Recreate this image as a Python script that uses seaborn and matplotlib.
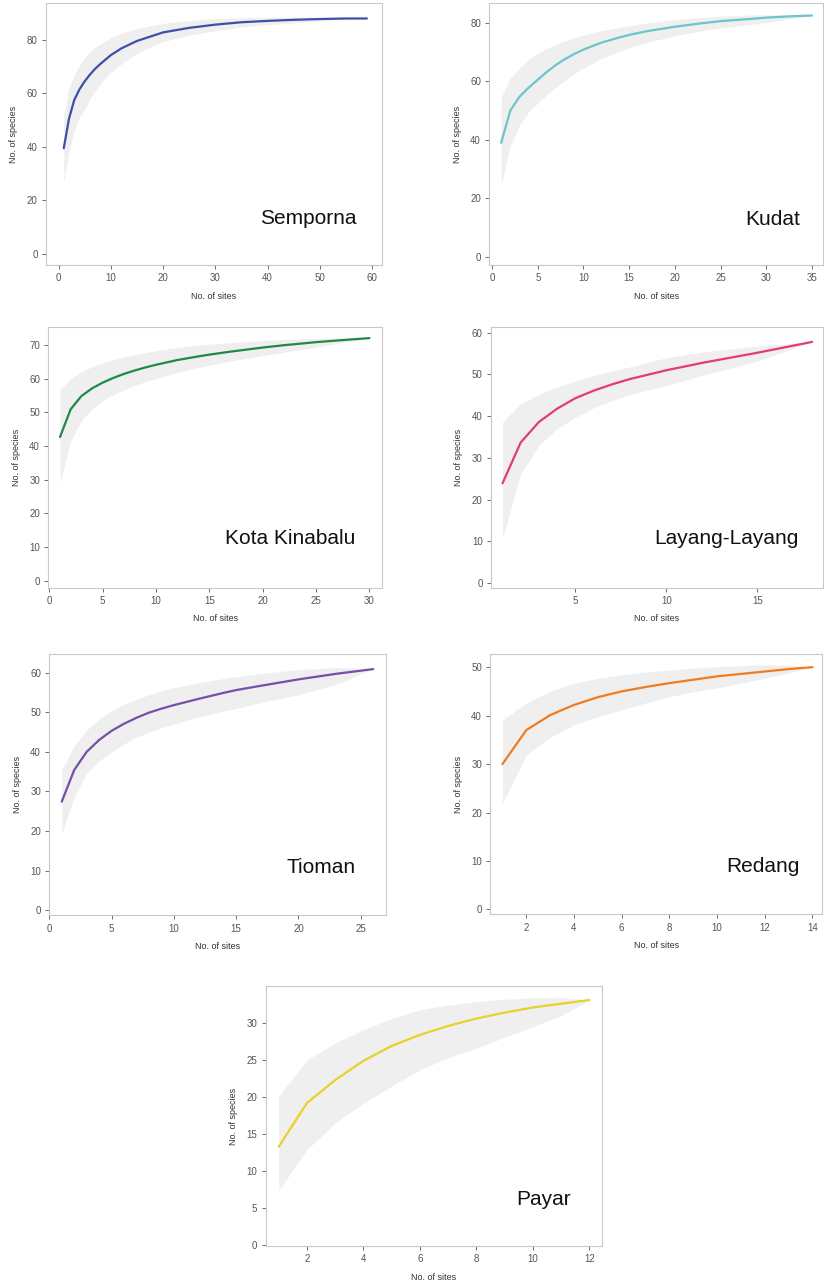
import pandas as pd
import seaborn as sns
import matplotlib.pyplot as plt

# species accumulation curves
semporna_x = [1, 2, 3, 4, 5, 6, 7, 8, 10, 12, 15, 20, 25, 30, 35, 40, 45, 50, 55, 59]
semporna_mean = [39.5, 50.5, 57.5, 61.5, 64.5, 67, 69.2, 71, 74.3, 76.8, 79.6, 82.8, 84.5, 85.7, 86.6, 87.1, 87.5, 87.8, 88, 88]
semporna_hi = [52, 62, 67, 70.5, 73.5, 75.5, 77.2, 78.5, 80.8, 82.5, 84.2, 86.2, 87.3, 88, 88.3, 88.5, 88.5, 88.4, 88.2, 88]
semporna_lo = [27, 38, 46, 51, 54, 58, 61, 63.5, 68, 71, 75, 79.4, 81.7, 83.4, 84.8, 85.7, 86.4, 87.1, 87.7, 88]

kudat_x = [1, 2, 3, 4, 5, 6, 7, 8, 9, 10, 12, 14, 15, 17, 20, 23, 25, 28, 30, 33, 35]
kudat_mean = [39, 50, 54.7, 57.8, 60.5, 63.2, 65.6, 67.6, 69.3, 70.8, 73.2, 75, 75.8, 77.1, 78.6, 79.8, 80.5, 81.2, 81.7, 82.2, 82.4]
kudat_hi = [54.5, 61, 64.5, 67.5, 69.5, 71.2, 72.6, 73.8, 74.8, 75.8, 77.3, 78.4, 79, 79.9, 81, 81.8, 82.2, 82.6, 82.7, 82.6, 82.4]
kudat_lo = [24.5, 38, 45, 49.5, 52.5, 55.5, 58, 60.3, 62.6, 64.5, 67.8, 70.3, 71.4, 73.3, 75.5, 77.2, 78.2, 79.3, 80, 81.5, 82.4]

kk_x = [1, 2, 3, 4, 5, 6, 7, 8, 9, 10, 12, 14, 15, 17, 20, 22, 25, 27, 30]
kk_mean = [42.7, 50.9, 54.8, 57.1, 58.8, 60.2, 61.4, 62.4, 63.3, 64.1, 65.5, 66.6, 67.1, 68, 69.2, 69.9, 70.8, 71.3, 72]
kk_hi = [56.8, 60, 62, 63.5, 64.7, 65.6, 66.4, 67.1, 67.7, 68.3, 69.2, 69.9, 70.2, 70.7, 71.3, 71.6, 71.9, 72, 72]
kk_lo = [29, 41.5, 47.5, 51, 53.5, 55.2, 56.7, 58, 59.1, 60, 61.8, 63.3, 64, 65.2, 66.8, 67.8, 69.3, 70.4, 72]

layang_x = [1, 2, 3, 4, 5, 6, 7, 8, 10, 12, 15, 18]
layang_mean = [23.9, 33.7, 38.6, 41.8, 44.3, 46.1, 47.6, 48.9, 51, 52.8, 55.2, 57.8]
layang_hi = [38.5, 42.9, 45.3, 47, 48.4, 49.7, 50.8, 51.8, 54, 55.4, 56.8, 57.8]
layang_lo = [10.7, 26.2, 33, 37, 39.7, 42, 43.7, 45.2, 47.3, 49.8, 53.2, 57.8]

tioman_x = [1, 2, 3, 4, 5, 6, 7, 8, 9, 10, 12, 14, 15, 17, 20, 23, 26]
tioman_mean = [27.4, 35.4, 40, 43, 45.3, 47.1, 48.6, 49.9, 50.9, 51.8, 53.4, 54.9, 55.6, 56.7, 58.3, 59.7, 60.9]
tioman_hi = [35.4, 41.5, 45.5, 48.3, 50.4, 52, 53.3, 54.4, 55.4, 56.2, 57.5, 58.5, 59, 59.8, 60.8, 61.3, 61]
tioman_lo = [19.4, 28.5, 34.6, 37.7, 40, 42, 43.7, 45, 46.1, 47, 48.8, 50.3, 51, 52.5, 54.4, 57, 61]

redang_x = [1, 2, 3, 4, 5, 6, 7, 8, 9, 10, 11, 12, 13, 14]
redang_mean = [30, 37, 40.1, 42.2, 43.8, 45, 45.9, 46.7, 47.4, 48.1, 48.6, 49.1, 49.6, 50]
redang_hi = [39.1, 42.6, 45, 46.7, 47.7, 48.4, 49, 49.4, 49.8, 50.1, 50.3, 50.5, 50.4, 50]
redang_lo = [21.9, 31.9, 35.5, 38.1, 39.8, 41.2, 42.6, 43.9, 44.9, 45.7, 46.7, 47.7, 48.8, 50]

payar_x = [1, 2, 3, 4, 5, 6, 7, 8, 9, 10, 11, 12]
payar_mean = [13.3, 19.2, 22.3, 24.9, 26.9, 28.4, 29.6, 30.6, 31.4, 32.1, 32.6, 33.1]
payar_hi = [20.1, 25, 27.3, 29.1, 30.6, 31.8, 32.4, 32.9, 33.2, 33.4, 33.4, 33.1]
payar_lo = [7.4, 12.9, 16.5, 19.2, 21.5, 23.7, 25.3, 26.6, 28.1, 29.5, 31, 33.1]

sns.set_style("white")
plt.rcParams['font.family'] = ['Liberation Sans', 'DejaVu Sans']

fig = plt.figure(figsize=(8.24, 12.87), dpi=100)

# name, data, colour, axes rect, xlim, ylim, xticks, yticks, label pos
panels = [
    ("Semporna", semporna_x, semporna_mean, semporna_lo, semporna_hi, "#3d4fa8",
     [0.0558, 0.7941, 0.4078, 0.2036], (-2.4, 61.9), (-4.1, 93.8), range(0, 61, 10), range(0, 81, 20), (0.923, 0.176)),
    ("Kudat", kudat_x, kudat_mean, kudat_lo, kudat_hi, "#6cc4cc",
     [0.5938, 0.7941, 0.405, 0.2036], (-0.3, 36.2), (-2.7, 86.7), range(0, 36, 5), range(0, 81, 20), (0.93, 0.172)),
    ("Kota Kinabalu", kk_x, kk_mean, kk_lo, kk_hi, "#1e8a44",
     [0.0586, 0.5434, 0.4053, 0.2028], (-0.1, 31.2), (-2, 75.4), range(0, 31, 5), range(0, 71, 10), (0.921, 0.189)),
    ("Layang-Layang", layang_x, layang_mean, layang_lo, layang_hi, "#e23a7e",
     [0.5959, 0.5434, 0.4029, 0.2023], (0.37, 18.6), (-1.1, 61.3), [5, 10, 15], range(0, 61, 10), (0.927, 0.187)),
    ("Tioman", tioman_x, tioman_mean, tioman_lo, tioman_hi, "#7550a6",
     [0.0598, 0.2888, 0.4083, 0.2030], (0, 27), (-1.3, 64.7), range(0, 26, 5), range(0, 61, 10), (0.912, 0.182)),
    ("Redang", redang_x, redang_mean, redang_lo, redang_hi, "#f07c22",
     [0.5950, 0.2896, 0.4026, 0.2022], (0.49, 14.4), (-1, 52.7), range(2, 15, 2), range(0, 51, 10), (0.933, 0.183)),
    ("Payar", payar_x, payar_mean, payar_lo, payar_hi, "#e6d22a",
     [0.3225, 0.0319, 0.4085, 0.2020], (0.54, 12.46), (-0.1, 35), range(2, 13, 2), range(0, 31, 5), (0.907, 0.18)),
]

for name, x, mean, lo, hi, col, rect, xl, yl, xt, yt, pos in panels:
    ax = fig.add_axes(rect)
    df = pd.DataFrame({"sites": x, "species": mean, "lo": lo, "hi": hi})
    ax.fill_between(df["sites"], df["lo"], df["hi"], color="#efefef", lw=0)
    sns.lineplot(data=df, x="sites", y="species", color=col, lw=1.6, ax=ax)
    ax.set_xlim(*xl)
    ax.set_ylim(*yl)
    ax.set_xticks(list(xt))
    ax.set_yticks(list(yt))
    ax.set_xlabel("No. of sites", fontsize=6.5, color="#333333", labelpad=6)
    ax.set_ylabel("No. of species", fontsize=6.5, color="#333333", labelpad=6)
    ax.tick_params(axis="both", labelsize=7, colors="#555555", length=3, width=0.6,
                   direction="out", bottom=True, left=True, pad=3)
    for s in ax.spines.values():
        s.set_color("#c8c8c8")
        s.set_linewidth(0.8)
    ax.text(pos[0], pos[1], name, transform=ax.transAxes, ha="right", va="center",
            fontsize=15, color="#111111")

fig.savefig("out.png", dpi=100)
